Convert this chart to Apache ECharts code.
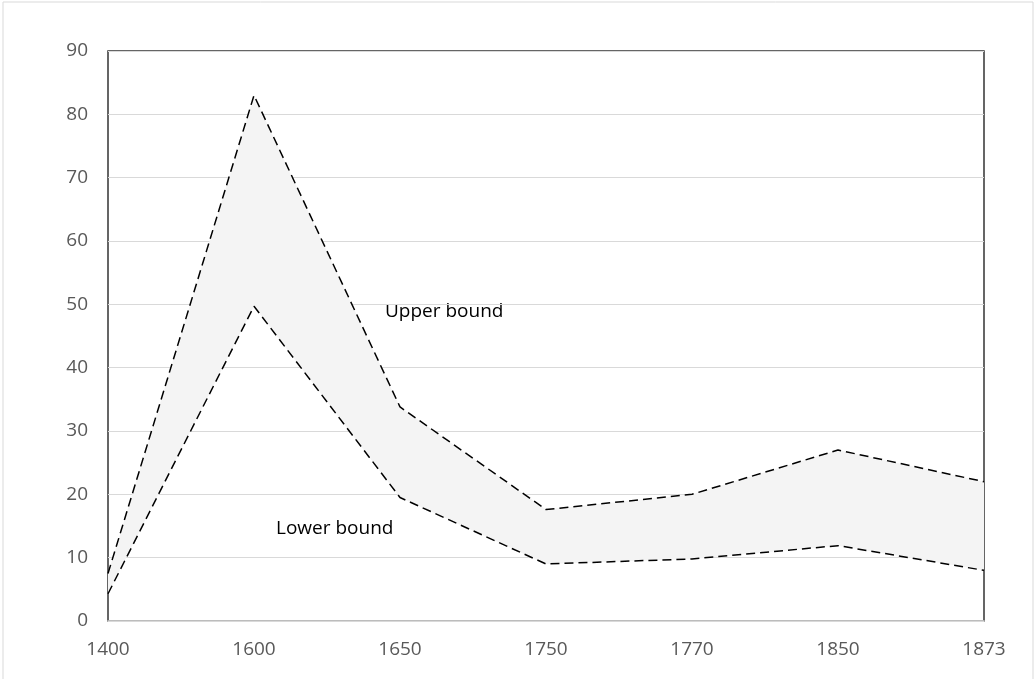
<!DOCTYPE html>
<html>
<head>
<meta charset="utf-8">
<script src="https://cdn.jsdelivr.net/npm/echarts@6/dist/echarts.min.js"></script>
<style>
    html, body { margin: 0; padding: 0; background: #fff; }
    #chart { width: 1036px; height: 679px; }
</style>
</head>
<body>
<div id="chart"></div>
<script>
// categories (years) and the two bounds
const years = ['1400', '1600', '1650', '1750', '1770', '1850', '1873']
const upperBound = [7.5, 83, 33.8, 17.6, 20, 27, 22]
const lowerBound = [4.3, 49.7, 19.5, 9, 9.8, 11.9, 8]
const yTicks = { min: 0, max: 90, interval: 10 }

// band height between the two lines, stacked on top of the lower bound
const bandHeight = upperBound.map((v, i) => +(v - lowerBound[i]).toFixed(2))

const chart = echarts.init(document.getElementById('chart'))

const labelFont = 'Open Sans'

const option = {
    animation: false,
    backgroundColor: '#fff',
    grid: {
        left: 108,
        right: 52,
        top: 51,
        bottom: 58,
        show: true,
        borderColor: '#333',
        borderWidth: 1.5
    },
    xAxis: {
        type: 'category',
        data: years,
        boundaryGap: false,
        axisLine: { lineStyle: { color: '#d9d9d9', width: 1.5 } },
        axisTick: { show: false },
        axisLabel: {
            color: '#595959',
            fontSize: 19,
            fontFamily: labelFont,
            margin: 19
        },
        splitLine: { show: false }
    },
    yAxis: {
        type: 'value',
        min: yTicks.min,
        max: yTicks.max,
        interval: yTicks.interval,
        axisLine: { show: false },
        axisTick: { show: false },
        axisLabel: {
            color: '#595959',
            fontSize: 19,
            fontFamily: labelFont,
            margin: 20
        },
        splitLine: { lineStyle: { color: '#d9d9d9', width: 1 } }
    },
    series: [
        {
            name: 'Lower bound',
            type: 'line',
            stack: 'band',
            data: lowerBound,
            symbol: 'none',
            lineStyle: { color: '#000', width: 1.5, type: [9, 5] }
        },
        {
            name: 'Upper bound',
            type: 'line',
            stack: 'band',
            data: bandHeight,
            symbol: 'none',
            lineStyle: { color: '#000', width: 1.5, type: [9, 5] },
            areaStyle: { color: '#f4f4f4', opacity: 1 }
        }
    ],
    graphic: [
        {
            type: 'rect',
            shape: { x: 3, y: 2, width: 1030, height: 690 },
            style: { fill: 'none', stroke: '#d9d9d9', lineWidth: 1 },
            silent: true
        },
        {
            type: 'text',
            left: 385,
            top: 302,
            style: { text: 'Upper bound', fontSize: 19, fontFamily: labelFont, fill: '#000' }
        },
        {
            type: 'text',
            left: 276,
            top: 519,
            style: { text: 'Lower bound', fontSize: 19, fontFamily: labelFont, fill: '#000' }
        }
    ]
}

chart.setOption(option)
</script>
</body>
</html>
